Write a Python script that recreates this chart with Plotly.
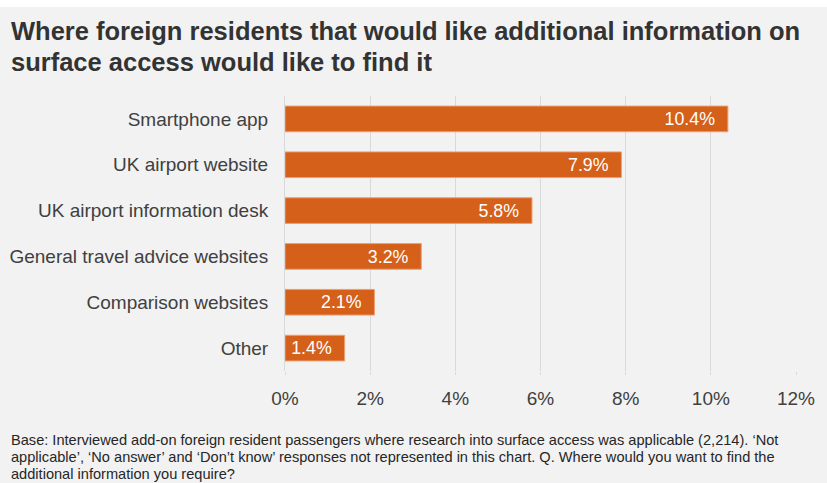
import plotly.graph_objects as go

categories = ["Smartphone app", "UK airport website", "UK airport information desk",
              "General travel advice websites", "Comparison websites", "Other"]
values = [10.4, 7.9, 5.8, 3.2, 2.1, 1.4]
tick_vals = [0, 2, 4, 6, 8, 10, 12]
tick_text = ["0%", "2%", "4%", "6%", "8%", "10%", "12%"]

title_lines = ["Where foreign residents that would like additional information on",
               "surface access would like to find it"]
foot_lines = ["Base: Interviewed add-on foreign resident passengers where research into surface access was applicable (2,214). \u2018Not",
              "applicable\u2019, \u2018No answer\u2019 and \u2018Don\u2019t know\u2019 responses not represented in this chart. Q. Where would you want to find the",
              "additional information you require?"]

W, H = 827, 483
ML, MR, MT, MB = 285, 31, 96, 112
PH = H - MT - MB

def py(ypx):
    return (H - MB - ypx) / PH

def px(xpx):
    return (xpx - ML) / (W - ML - MR)

fig = go.Figure(go.Bar(
    x=values, y=categories, orientation="h",
    marker=dict(color="#D4601A", line=dict(color="#EE9E72", width=1)),
    text=[f"{v:.1f}%\u00a0\u00a0" for v in values],
    textposition="inside", insidetextanchor="end",
    textfont=dict(color="white", size=19, family="Liberation Sans, Arial"),
    width=0.56, hoverinfo="skip",
))

fig.update_yaxes(autorange="reversed", showgrid=False, showline=True, linecolor="#d9d9d9",
                 linewidth=1, ticks="", tickfont=dict(size=19, color="#404040"),
                 ticklabelstandoff=12, automargin=False)
fig.update_xaxes(range=[0, 12], tickvals=tick_vals, ticktext=tick_text, showgrid=True,
                 gridcolor="#d9d9d9", gridwidth=1, zeroline=False, showline=False,
                 ticks="outside", ticklen=3, tickcolor="#d9d9d9",
                 tickfont=dict(size=19, color="#404040"), ticklabelstandoff=7,
                 automargin=False)

annotations = []
for t, y in zip(title_lines, [31, 62]):
    annotations.append(dict(text=f"<b>{t}</b>", x=px(9), y=py(y), xref="paper", yref="paper",
                            xanchor="left", yanchor="middle", showarrow=False,
                            font=dict(size=25.5, color="#333333", family="Liberation Sans, Arial")))
for t, y in zip(foot_lines, [440, 457, 474]):
    annotations.append(dict(text=t, x=px(9), y=py(y), xref="paper", yref="paper",
                            xanchor="left", yanchor="middle", showarrow=False,
                            font=dict(size=14.6, color="#262626", family="Liberation Sans, Arial")))

fig.update_layout(
    width=W, height=H, margin=dict(l=ML, r=MR, t=MT, b=MB, autoexpand=False),
    paper_bgcolor="#f2f2f2", plot_bgcolor="#f2f2f2",
    font=dict(family="Liberation Sans, Arial", color="#404040"),
    showlegend=False, annotations=annotations,
    shapes=[dict(type="rect", xref="paper", yref="paper", x0=px(0), x1=px(W),
                 y0=py(7), y1=py(0), fillcolor="white", line=dict(width=0), layer="above")],
)

fig.write_html("out.html")
